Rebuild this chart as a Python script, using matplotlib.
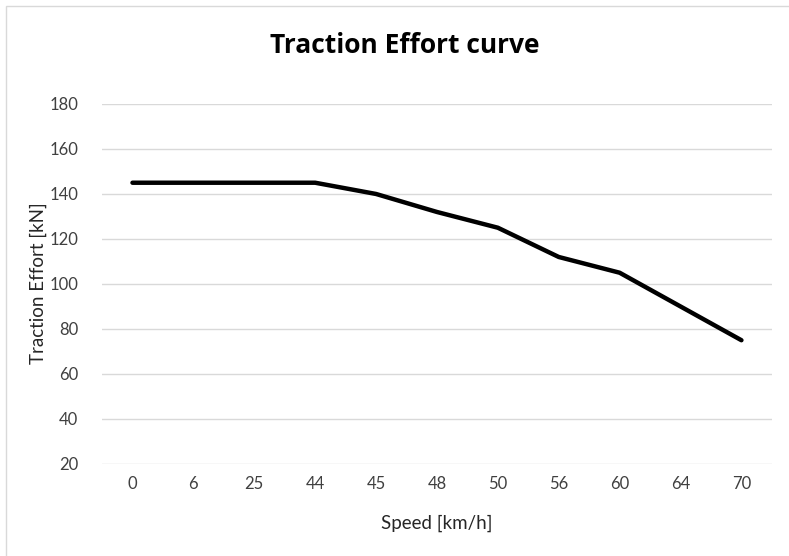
import matplotlib
matplotlib.use("Agg")
import matplotlib.pyplot as plt
from matplotlib.patches import Rectangle

speeds = ["0", "6", "25", "44", "45", "48", "50", "56", "60", "64", "70"]
effort = [145, 145, 145, 145, 140, 132, 125, 112, 105, 90, 75]
yticks = [20, 40, 60, 80, 100, 120, 140, 160, 180]

plt.rcParams['font.family'] = ['Lato', 'DejaVu Sans']

fig = plt.figure(figsize=(7.89, 5.56), dpi=100)
ax = fig.add_axes([0.1293, 0.1655, 0.849, 0.6475])

x = list(range(len(speeds)))
ax.plot(x, effort, color='black', lw=3.2, solid_capstyle='round', solid_joinstyle='round', zorder=3)

ax.set_xlim(-0.5, len(speeds) - 0.5)
ax.set_ylim(20, 180)
ax.set_yticks(yticks)
ax.set_xticks(x)
ax.set_xticklabels(speeds)
ax.grid(axis='y', color='#d9d9d9', lw=1)
ax.set_axisbelow(True)
for s in ax.spines.values():
    s.set_visible(False)
ax.tick_params(length=0, labelsize=12, labelcolor='#404040', pad=9)
ax.tick_params(axis='y', pad=17)

fig.text(0.513, 0.918, "Traction Effort curve", ha='center', va='center',
         fontsize=19, fontweight='bold', color='black', family=['Open Sans', 'DejaVu Sans'])
fig.text(0.554, 0.058, "Speed [km/h]", ha='center', va='center', fontsize=13.5, color='#262626')
fig.text(0.048, 0.49, "Traction Effort [kN]", ha='center', va='center', rotation=90,
         fontsize=13.5, color='#262626')

fig.patches.append(Rectangle((0.008, -0.01), 1.0, 1.0 - 0.0, transform=fig.transFigure,
                             fill=False, edgecolor='#d9d9d9', lw=1))

fig.savefig("out.png", dpi=100)
